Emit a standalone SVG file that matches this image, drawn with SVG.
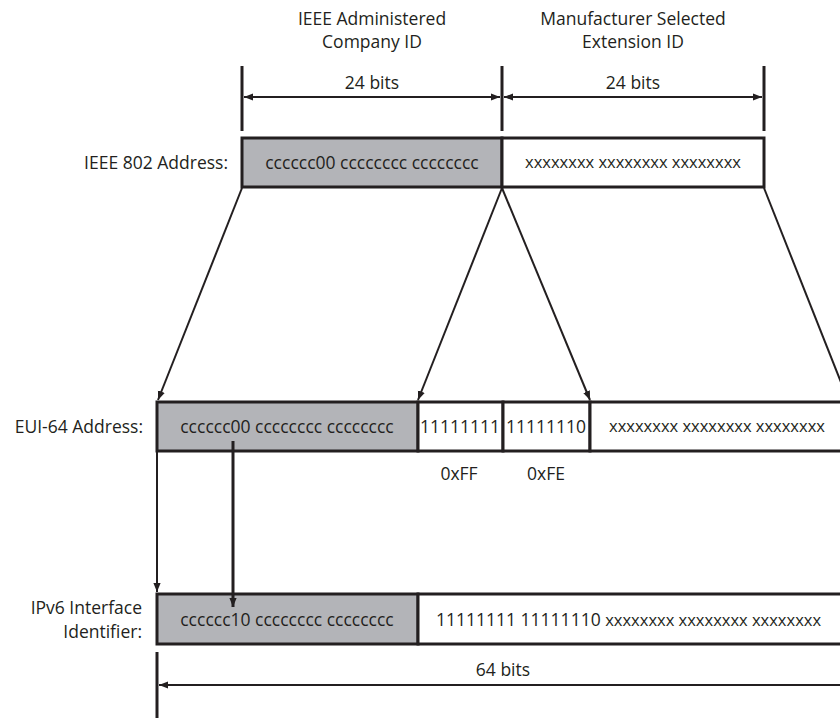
<svg xmlns="http://www.w3.org/2000/svg" width="840" height="718" viewBox="0 0 840 718">
<style>
text{font-family:"Open Sans","Noto Sans","Liberation Sans",sans-serif;fill:#231f20;font-size:17.5px}
.m{text-anchor:middle}
.e{text-anchor:end}
.x{font-size:16.5px}
.box{stroke:#231f20;stroke-width:3}
.g{fill:#b3b4b8}
.w{fill:#fff}
.ln{stroke:#231f20;stroke-width:2;fill:none}
.tk{stroke:#231f20;stroke-width:3;fill:none}
</style>
<defs>
<marker id="ah2" viewBox="0 0 10 10" refX="10" refY="5" markerWidth="9" markerHeight="9" orient="auto-start-reverse" markerUnits="userSpaceOnUse"><path d="M0,1 L10,5 L0,9 z" fill="#231f20"/></marker>
</defs>
<g id="headers">
<text class="m" x="372" y="25">IEEE Administered</text>
<text class="m" x="372" y="48">Company ID</text>
<text class="m" x="633" y="25">Manufacturer Selected</text>
<text class="m" x="633" y="48">Extension ID</text>
<text class="m" x="372" y="89">24 bits</text>
<text class="m" x="633" y="89">24 bits</text>
</g>
<g id="labels">
<text class="e" x="228" y="169">IEEE 802 Address:</text>
<text class="e" x="143" y="433">EUI-64 Address:</text>
<text class="e" x="142" y="614">IPv6 Interface</text>
<text class="e" x="142" y="638">Identifier:</text>
<text class="m" x="459" y="480">0xFF</text>
<text class="m" x="546" y="480">0xFE</text>
<text class="m" x="503" y="676">64 bits</text>
</g>
<g id="ieee802">
<rect class="box g" x="242" y="138" width="260" height="49"/>
<rect class="box w" x="502" y="138" width="262" height="49"/>
<text class="m" x="372" y="169">cccccc00 cccccccc cccccccc</text>
<text class="m x" x="633" y="168">xxxxxxxx xxxxxxxx xxxxxxxx</text>
</g>
<g id="eui64">
<rect class="box g" x="157" y="402" width="261" height="49"/>
<rect class="box w" x="418" y="402" width="85" height="49"/>
<rect class="box w" x="503" y="402" width="87" height="49"/>
<rect class="box w" x="590" y="402" width="260" height="49"/>
<text class="m" x="287" y="433">cccccc00 cccccccc cccccccc</text>
<text class="m" x="460" y="433">11111111</text>
<text class="m" x="546" y="433">11111110</text>
<text class="m x" x="717" y="432">xxxxxxxx xxxxxxxx xxxxxxxx</text>
</g>
<g id="ipv6">
<rect class="box g" x="157" y="594" width="261" height="50"/>
<rect class="box w" x="418" y="594" width="432" height="50"/>
<text class="m" x="287" y="626">cccccc10 cccccccc cccccccc</text>
<text x="436" y="626">11111111 11111110 <tspan class="x">xxxxxxxx xxxxxxxx xxxxxxxx</tspan></text>
</g>
<g id="connectors">
<line class="tk" x1="242" y1="66" x2="242" y2="131"/>
<line class="tk" x1="502" y1="66" x2="502" y2="131"/>
<line class="tk" x1="764" y1="66" x2="764" y2="131"/>
<line class="ln" x1="244" y1="97" x2="500" y2="97" marker-start="url(#ah2)" marker-end="url(#ah2)"/>
<line class="ln" x1="504" y1="97" x2="762" y2="97" marker-start="url(#ah2)" marker-end="url(#ah2)"/>
<line class="ln" x1="242" y1="188" x2="158" y2="400" marker-end="url(#ah2)"/>
<line class="ln" x1="502" y1="188" x2="418" y2="400" marker-end="url(#ah2)"/>
<line class="ln" x1="502" y1="188" x2="590" y2="400" marker-end="url(#ah2)"/>
<line class="ln" x1="764" y1="188" x2="848" y2="400"/>
<line class="ln" x1="157" y1="451" x2="157" y2="592" marker-end="url(#ah2)"/>
<line class="tk" x1="233" y1="441" x2="233" y2="607" marker-end="url(#ah2)"/>
<line class="tk" x1="157" y1="652" x2="157" y2="718"/>
<line class="ln" x1="840" y1="685" x2="159" y2="685" marker-end="url(#ah2)"/>
</g>
</svg>
